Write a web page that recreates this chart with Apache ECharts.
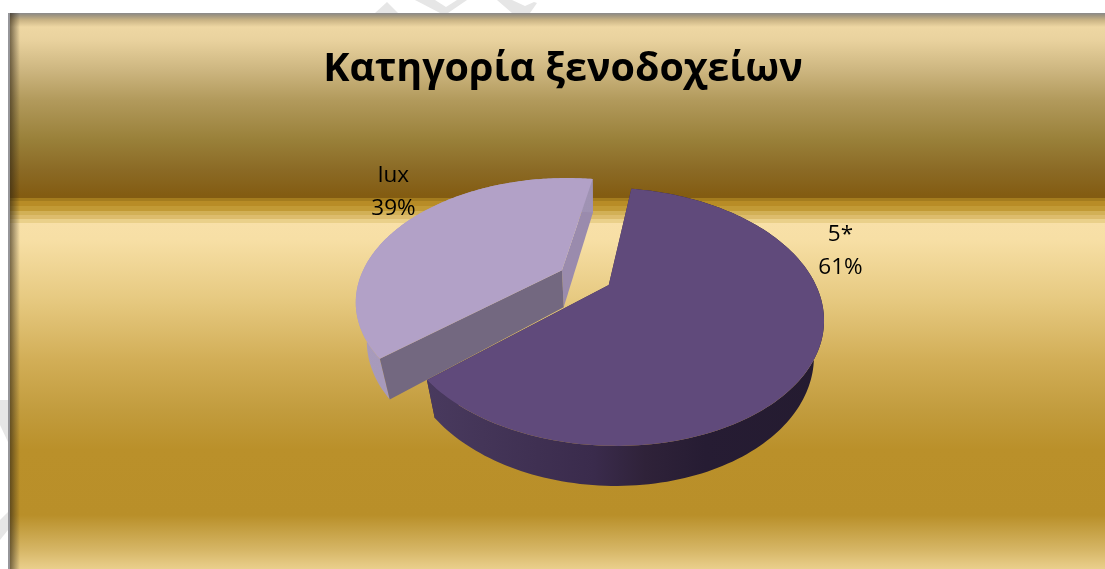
<!DOCTYPE html>
<html>
<head>
<meta charset="utf-8">
<style>html,body{margin:0;padding:0;background:#fff}#chart{width:1105px;height:569px}</style>
<script src="https://cdn.jsdelivr.net/npm/echarts@6/dist/echarts.min.js"></script>
</head>
<body>
<div id="chart"></div>
<script>
const chartTitle = 'Κατηγορία ξενοδοχείων';
const categories = ['5*', 'lux'];
const shares = [61, 39];

// Layout of the tilted, exploded pie
const originX = 585, originY = 277.5;
const scaleX = 206, scaleY = 117.6, tilt = 0.242, explode = 0.13;
const startAngle = 9.4;            // degrees clockwise from the far side of the disc
const sliceWidth = [0.99, 0.98];   // horizontal radius of each slice
const sliceDepth = [34.5, 37.5];   // thickness of each slice
const taper = 0.045, taperX = 600;
const labelAnchors = [[840.5, 251], [393.5, 192]];

const topColors = ['#604A7B', '#B2A1C7'];
const rimColors = [
  [[0, '#493A5E'], [0.42, '#3A2B4C'], [0.55, '#2F2239'], [0.7, '#261C33'], [1, '#241B30']],
  [[0, '#A89BBC'], [1, '#9F92B3']]
];
// face at the start of the arc, face at the end of the arc
const cutWallColors = [['#3A2C4A', '#3A2C4A'], ['#736880', '#9A8BAD']];

const backdropStops = [
  [13, '#8A8A8C'], [15, '#9A9280'], [20, '#C9B384'], [27, '#EED7A3'], [40, '#E9D29E'],
  [70, '#CDB680'], [100, '#B29A5C'], [140, '#998039'], [170, '#8B6A25'], [195, '#835C12'],
  [198, '#835C12'], [198, '#A47C1E'], [201, '#A47C1E'], [201, '#B88C26'], [206, '#B88C26'],
  [206, '#C29A35'], [211, '#C29A35'], [211, '#D2B056'], [215, '#D2B056'], [215, '#DDBC6C'],
  [219, '#DDBC6C'], [219, '#EAD08A'], [223, '#EAD08A'], [223, '#F8E0A8'], [240, '#F7DFA5'],
  [300, '#E6C980'], [360, '#D2AE57'], [410, '#C29C3E'], [450, '#BA902A'], [515, '#B98F29'],
  [530, '#C5A043'], [550, '#D6B666'], [569, '#EACF8C']
];

// Faint marks that show on the white margin around the panel
const marginMarks = [
  [[0, 400], [8, 400], [8, 442], [0, 425]],
  [[0, 520], [8, 512], [8, 530], [0, 540]],
  [[375, 13], [387, 2], [398, 13]],
  [[415, 0], [435, 0], [446, 7], [457, 0], [467, 0], [448, 13], [440, 13]],
  [[497, 0], [512, 0], [525, 6], [534, 2], [537, 3], [530, 13], [512, 13]]
];

const sum = shares.reduce((a, b) => a + b, 0);

// Maps a point of the pie's plane to the screen; Y grows toward the far side.
function project(X, Y) {
  const w = 1 + tilt * Y;
  return { x: originX + scaleX * X / w, y: originY - scaleY * Y / w, w };
}
function rimPoint(X, Y) {
  const p = project(X, Y);
  return [p.x, p.y];
}
function basePoint(X, Y, depth) {
  const p = project(X, Y);
  return [p.x - (p.x - taperX) * taper, p.y + depth * Math.sqrt(1 / p.w)];
}
function arcPoints(map, ox, oy, rx, from, to, steps) {
  const pts = [];
  for (let i = 0; i <= steps; i++) {
    const a = (from + (to - from) * i / steps) * Math.PI / 180;
    pts.push(map(ox + rx * Math.sin(a), oy + Math.cos(a)));
  }
  return pts;
}

function renderSlice(params, api) {
  const i = params.dataIndex;
  const value = api.value(0);
  const before = shares.slice(0, i).reduce((a, b) => a + b, 0);
  const from = startAngle + before / sum * 360;
  const to = from + value / sum * 360;
  const mid = (from + to) / 2 * Math.PI / 180;
  const ox = explode * Math.sin(mid), oy = explode * Math.cos(mid);
  const lower = (X, Y) => basePoint(X, Y, sliceDepth[i]);

  const topArc = arcPoints(rimPoint, ox, oy, sliceWidth[i], from, to, 160);
  const baseArc = arcPoints(lower, ox, oy, sliceWidth[i], from, to, 160);
  const polygon = (points, fill, z2) => ({
    type: 'polygon', z2, shape: { points },
    style: { fill, stroke: null }
  });

  const children = [];
  const apexTop = rimPoint(ox, oy), apexBase = lower(ox, oy);
  const n = topArc.length - 1;
  // cut faces running from the centre to each end of the arc
  children.push(polygon([apexTop, topArc[n], baseArc[n], apexBase], cutWallColors[i][1], 1));
  children.push(polygon([apexTop, topArc[0], baseArc[0], apexBase], cutWallColors[i][0], i === 0 ? 1 : 2));
  // outer rim
  children.push(polygon(topArc.concat(baseArc.slice().reverse()),
    new echarts.graphic.LinearGradient(0, 0, 1, 0, rimColors[i].map(s => ({ offset: s[0], color: s[1] }))),
    i === 0 ? 3 : 1));
  // top face
  children.push(polygon([apexTop].concat(topArc), topColors[i], i === 0 ? 6 : 4));
  // value label
  children.push({
    type: 'text', z2: 8,
    style: {
      text: categories[i] + '\n' + value + '%',
      x: labelAnchors[i][0], y: labelAnchors[i][1],
      fill: '#000', font: '22.5px "Open Sans"',
      align: 'center', verticalAlign: 'middle', lineHeight: 33.5
    }
  });
  return { type: 'group', children };
}

const panelTop = 13, panelBottom = 569, panelLeft = 8;
const span = panelBottom - panelTop;
const graphicElements = [
  {
    type: 'rect', z: -10, shape: { x: panelLeft, y: panelTop, width: 1105 - panelLeft, height: span },
    style: {
      fill: new echarts.graphic.LinearGradient(0, 0, 0, 1,
        backdropStops.map(s => ({ offset: (s[0] - panelTop) / span, color: s[1] })))
    }
  },
  {
    type: 'rect', z: -9, shape: { x: panelLeft + 2, y: panelTop, width: 10, height: span },
    style: {
      fill: new echarts.graphic.LinearGradient(0, 0, 1, 0, [
        { offset: 0, color: 'rgba(45,35,20,0.62)' },
        { offset: 0.5, color: 'rgba(45,35,20,0.3)' },
        { offset: 1, color: 'rgba(45,35,20,0)' }
      ])
    }
  },
  { type: 'rect', z: -8, shape: { x: panelLeft, y: panelTop, width: 2, height: span }, style: { fill: '#96969A' } }
].concat(marginMarks.map(points => ({
  type: 'polygon', z: -11, shape: { points }, style: { fill: '#E6E6E6' }
})));

const chart = echarts.init(document.getElementById('chart'), null, { renderer: 'canvas' });
chart.setOption({
  animation: false,
  backgroundColor: '#fff',
  title: {
    text: chartTitle, left: 558, top: 45, textAlign: 'center',
    textStyle: { fontFamily: 'Open Sans', fontWeight: 'bold', fontSize: 39.5, color: '#000' }
  },
  graphic: graphicElements,
  series: [{
    type: 'custom',
    coordinateSystem: 'none',
    renderItem: renderSlice,
    data: shares.map(v => [v])
  }]
});
</script>
</body>
</html>
